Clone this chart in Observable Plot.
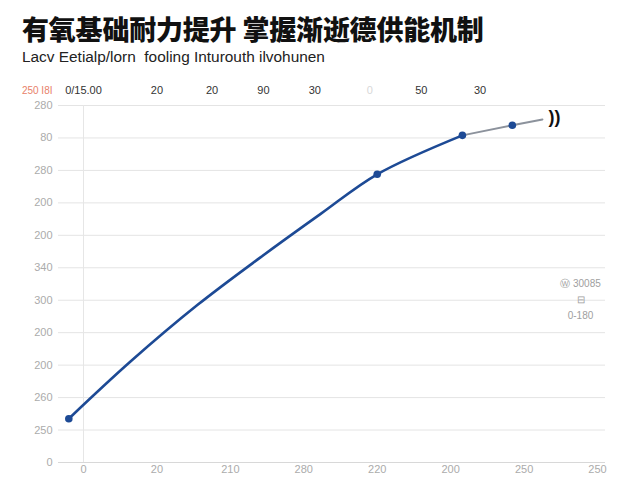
<!DOCTYPE html>
<html>
<head>
<meta charset="utf-8">
<script src="https://cdn.jsdelivr.net/npm/d3@7"></script>
<script src="https://cdn.jsdelivr.net/npm/@observablehq/plot@0.6"></script>
<style>
  html, body { margin: 0; padding: 0; background: #fff; }
  #wrap { position: relative; width: 640px; height: 480px; overflow: hidden; background: #fff; }
  #title { position: absolute; left: 22px; top: 12px; font-family: "Noto Sans CJK SC", sans-serif; font-weight: 900; font-size: 27px; line-height: 34px; color: #111; white-space: nowrap; letter-spacing: -0.2px; }
  #subtitle { position: absolute; left: 22px; top: 48px; font-family: "Liberation Sans", Arial, sans-serif; font-size: 15.4px; line-height: 18px; color: #222; white-space: nowrap; }
  #chart { position: absolute; left: 0; top: 80px; }
</style>
</head>
<body>
<div id="wrap">
  <div id="title">有氧基础耐力提升 掌握渐逝德供能机制</div>
  <div id="subtitle">Lacv Eetialp/lorn &nbsp;fooling Inturouth ilvohunen</div>
  <div id="chart"></div>
</div>
<script>
// ---- data ----
const yLabels = ["0", "250", "260", "200", "200", "300", "340", "200", "200", "280", "80", "280"];
const xLabels = ["0", "20", "210", "280", "220", "200", "250", "250"];
const topTicks = [0, 1, 1.75, 2.45, 3.15, 3.9, 4.6, 5.4];
const topLabels = ["0/15.00", "20", "20", "90", "30", "0", "50", "30"];
const topFaint = [false, false, false, false, false, true, false, false];
const stage = [-0.2, 0.64, 1.55, 2.41, 3.23, 4.0, 5.16, 5.84, 6.25];
const level = [1.35, 3.11, 4.85, 6.32, 7.66, 8.88, 10.08, 10.39, 10.57];
const phase = ["main", "main", "main", "main", "main", "main", "main", "tail", "tail"];
const marked = [true, false, false, false, false, true, true, true, false];
const cornerLabel = "250 I8I";
const endLabel = "))";
const notes = ["Ⓦ 30085", "⊟", "0-180"];

// ---- build rows ----
const rows = stage.map((x, i) => ({x, y: level[i], phase: phase[i], marked: marked[i]}));
const mainRows = rows.filter(d => d.phase === "main");
const tailRows = [mainRows[mainRows.length - 1], ...rows.filter(d => d.phase === "tail")];
const dotRows = rows.filter(d => d.marked);
const lastRow = rows[rows.length - 1];
const topRows = topTicks.map((t, i) => ({x: t, label: topLabels[i], color: topFaint[i] ? "#d8d8d8" : "#333"}));

const blue = "#1d4a95";

const chart = Plot.plot({
  width: 640,
  height: 400,
  marginLeft: 58,
  marginRight: 35,
  marginTop: 25,
  marginBottom: 18,
  insetLeft: 25,
  insetRight: 8,
  x: {domain: [0, 7], axis: null},
  y: {domain: [0, 11], axis: null},
  color: {type: "identity"},
  style: {fontFamily: "'Liberation Sans', Arial, sans-serif", fontSize: "11px", background: "white", overflow: "visible"},
  marks: [
    Plot.gridY(d3.range(12), {stroke: "#e4e4e4", strokeOpacity: 1}),
    Plot.ruleX([0], {stroke: "#e6e6e6"}),
    Plot.ruleY([0], {stroke: "#d8d8d8"}),
    Plot.axisY(d3.range(12), {tickSize: 0, tickPadding: 6, tickFormat: i => yLabels[i], fill: "#ababab", label: null}),
    Plot.axisX(d3.range(8), {anchor: "bottom", tickSize: 0, tickPadding: 3, tickFormat: i => xLabels[i], fill: "#ababab", label: null}),
    Plot.text(topRows, {x: "x", frameAnchor: "top", dy: -19, text: "label", fill: "color", fontSize: 11}),
    Plot.text([cornerLabel], {frameAnchor: "top-left", dx: -6, dy: -19, textAnchor: "end", text: d => d, fill: "#e8826a", fontSize: 10}),
    Plot.line(mainRows, {x: "x", y: "y", stroke: blue, strokeWidth: 2.6, curve: "catmull-rom"}),
    Plot.line(tailRows, {x: "x", y: "y", stroke: "#8c929c", strokeWidth: 2}),
    Plot.dot(dotRows, {x: "x", y: "y", r: 3.8, fill: blue}),
    Plot.text([lastRow], {x: "x", y: "y", text: () => endLabel, dx: 12, dy: -2, fontWeight: "bold", fontSize: 18, fill: "#111"}),
    Plot.text([notes.join("\n")], {frameAnchor: "right", dx: -25, dy: 14, textAnchor: "middle", lineHeight: 1.6, text: d => d, fill: "#a0a0a0", fontSize: 10})
  ]
});
document.getElementById("chart").appendChild(chart);
</script>
</body>
</html>
